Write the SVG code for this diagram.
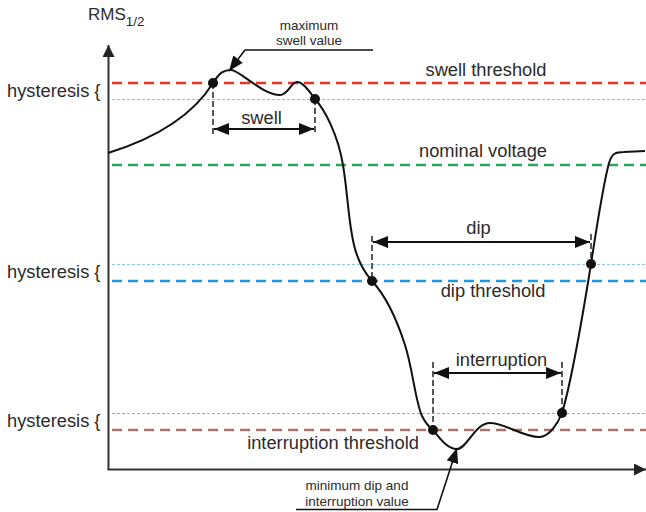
<svg xmlns="http://www.w3.org/2000/svg" width="646" height="512" viewBox="0 0 646 512">
<style>
text{font-family:"Liberation Sans",Arial,sans-serif;fill:#2b2b2b}
.big{font-size:18.3px}
.small{font-size:13.5px}
.mid{text-anchor:middle}
.thr{fill:none;stroke-width:2.5;stroke-dasharray:10 6}
.hys{fill:none;stroke-width:1.1;stroke-dasharray:3 2}
.axis{fill:none;stroke:#333;stroke-width:2}
.curve{fill:none;stroke:#111;stroke-width:2}
.vdash{fill:none;stroke:#222;stroke-width:1.5;stroke-dasharray:6 3}
.span{fill:none;stroke:#111;stroke-width:2}
.call{fill:none;stroke:#111;stroke-width:1.6}
.dot{fill:#111}
</style>
<defs>
<marker id="ah" viewBox="0 0 15 12" refX="15" refY="6" markerWidth="15" markerHeight="12" markerUnits="userSpaceOnUse" orient="auto-start-reverse">
<path d="M0,0 L15,6 L0,12 z" fill="#111"/>
</marker>
<marker id="axh" viewBox="0 0 12 12" refX="12" refY="6" markerWidth="12" markerHeight="12" markerUnits="userSpaceOnUse" orient="auto">
<path d="M0,0 L12,6 L0,12 z" fill="#222"/>
</marker>
</defs>

<g id="thresholds">
<line class="hys" x1="112" y1="99.5" x2="646" y2="99.5" stroke="#f09a9a"/>
<line class="thr" x1="112" y1="83" x2="646" y2="83" stroke="#e5332a"/>
<line class="thr" x1="112" y1="165" x2="646" y2="165" stroke="#2ba65c"/>
<line class="hys" x1="112" y1="264.5" x2="646" y2="264.5" stroke="#8cc6ec"/>
<line class="thr" x1="112" y1="281" x2="646" y2="281" stroke="#1f9ad6"/>
<line class="hys" x1="112" y1="413.5" x2="646" y2="413.5" stroke="#c49a90"/>
<line class="thr" x1="112" y1="430" x2="646" y2="430" stroke="#a87468"/>
</g>

<g id="axes">
<line class="axis" x1="108.5" y1="470" x2="108.5" y2="45" marker-end="url(#axh)"/>
<line class="axis" x1="107.5" y1="469.5" x2="646" y2="469.5" marker-end="url(#axh)"/>
</g>

<g id="labels">
<text x="88" y="20" style="font-size:17px">RMS<tspan dy="6" style="font-size:13.5px">1/2</tspan></text>
<text class="big" x="7" y="97">hysteresis {</text>
<text class="big" x="7" y="278">hysteresis {</text>
<text class="big" x="7" y="427">hysteresis {</text>
<text class="big mid" x="486" y="76">swell threshold</text>
<text class="big mid" x="483" y="157">nominal voltage</text>
<text class="big mid" x="493" y="297">dip threshold</text>
<text class="big mid" x="333" y="449">interruption threshold</text>
<text class="big mid" x="261.5" y="124">swell</text>
<text class="big mid" x="478.5" y="234">dip</text>
<text class="big mid" x="501.5" y="366">interruption</text>
<text class="small mid" x="309" y="30">maximum</text>
<text class="small mid" x="309" y="45">swell value</text>
<text class="small mid" x="357" y="490">minimum dip and</text>
<text class="small mid" x="357" y="506">interruption value</text>
</g>

<g id="rms-curve">
<path class="curve" d="M108,153 C150,140 190,120 213,83 C220,72 224,70 231,70 C240,70 262,95 280,95 C288,95 291,82 297,82 C303,82 309,91 315,99 C325,110 338,135 343,165 C348,195 348,220 354,245 C358,262 365,273 372,281 C385,295 397,320 405,345 C413,370 415,400 422,416 C425,422 429,427 433,430 C441,440 448,449 457,449 C467,449 475,423 490,423 C505,423 525,438 540,437 C550,436 558,423 562,413 C572,380 582,320 591,264 C597,225 603,185 609,163 C612,153 616,152 624,152 L645,151"/>
</g>

<g id="connectors">
<line class="vdash" x1="213" y1="83" x2="213" y2="135"/>
<line class="vdash" x1="315" y1="99" x2="315" y2="134"/>
<line class="span" x1="214" y1="129" x2="314" y2="129" marker-start="url(#ah)" marker-end="url(#ah)"/>
<line class="vdash" x1="372" y1="236" x2="372" y2="281"/>
<line class="vdash" x1="591" y1="234" x2="591" y2="264"/>
<line class="span" x1="373" y1="242" x2="590" y2="242" marker-start="url(#ah)" marker-end="url(#ah)"/>
<line class="vdash" x1="433" y1="362" x2="433" y2="430"/>
<line class="vdash" x1="562" y1="362" x2="562" y2="413"/>
<line class="span" x1="434" y1="373" x2="561" y2="373" marker-start="url(#ah)" marker-end="url(#ah)"/>
<polyline class="call" points="373,50 245,50 229,71" marker-end="url(#ah)"/>
<polyline class="call" points="296,509.5 437,509.5 457,448" marker-end="url(#ah)"/>
</g>

<g id="points">
<circle class="dot" cx="213" cy="83" r="5"/>
<circle class="dot" cx="315" cy="99" r="5"/>
<circle class="dot" cx="372" cy="281" r="5"/>
<circle class="dot" cx="591" cy="264" r="5"/>
<circle class="dot" cx="433" cy="430" r="5"/>
<circle class="dot" cx="562" cy="413" r="5"/>
</g>
</svg>
